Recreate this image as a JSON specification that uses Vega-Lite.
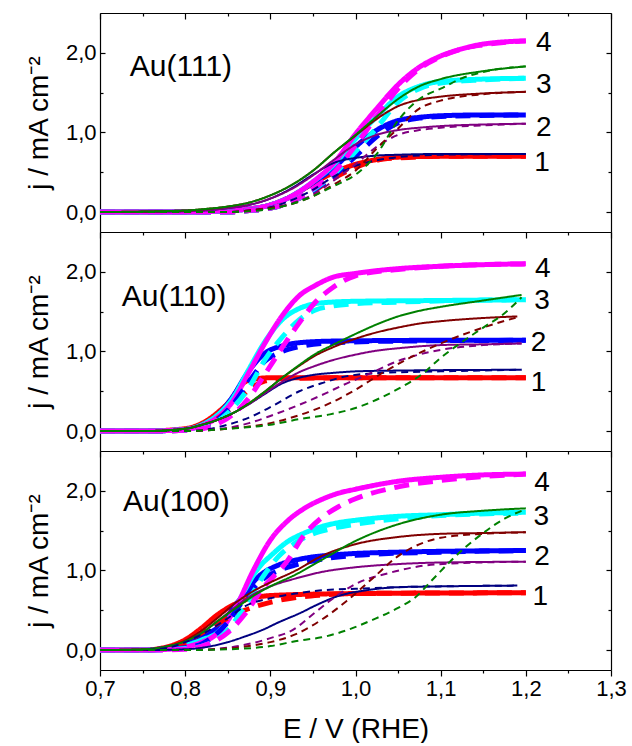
{
  "$schema": "https://vega.github.io/schema/vega-lite/v6.json",
  "padding": {"left": 25, "top": 12, "right": 5, "bottom": 0},
  "bounds": "flush",
  "spacing": 0,
  "config": {
    "font": "Liberation Sans",
    "view": {"stroke": null},
    "axis": {"domainColor": "#000", "tickColor": "#000", "labelColor": "#000", "titleColor": "#000", "grid": false, "labelFont": "Liberation Sans", "titleFont": "Liberation Sans", "titleFontWeight": "normal", "domainWidth": 1.2, "tickWidth": 1.2, "labelFontSize": 22, "titleFontSize": 28, "labelFlush": false, "labelOverlap": false, "labelBound": false}
  },
  "datasets": {
    "p111": [
      {"s":"aR","x":0.7,"y":0},{"s":"aR","x":0.8,"y":0},{"s":"aR","x":0.85,"y":0.02},{"s":"aR","x":0.875,"y":0.04},{"s":"aR","x":0.9,"y":0.09},{"s":"aR","x":0.925,"y":0.2},{"s":"aR","x":0.95,"y":0.36},{"s":"aR","x":0.975,"y":0.5},{"s":"aR","x":1.0,"y":0.6},{"s":"aR","x":1.025,"y":0.66},{"s":"aR","x":1.05,"y":0.69},{"s":"aR","x":1.1,"y":0.7},{"s":"aR","x":1.2,"y":0.7},
      {"s":"aB","x":0.7,"y":0},{"s":"aB","x":0.8,"y":0},{"s":"aB","x":0.85,"y":0.02},{"s":"aB","x":0.875,"y":0.04},{"s":"aB","x":0.9,"y":0.09},{"s":"aB","x":0.925,"y":0.2},{"s":"aB","x":0.95,"y":0.37},{"s":"aB","x":0.975,"y":0.56},{"s":"aB","x":1.0,"y":0.82},{"s":"aB","x":1.025,"y":1.03},{"s":"aB","x":1.05,"y":1.15},{"s":"aB","x":1.075,"y":1.19},{"s":"aB","x":1.1,"y":1.21},{"s":"aB","x":1.15,"y":1.22},{"s":"aB","x":1.2,"y":1.22},
      {"s":"aC","x":0.7,"y":0},{"s":"aC","x":0.8,"y":0},{"s":"aC","x":0.85,"y":0.02},{"s":"aC","x":0.875,"y":0.04},{"s":"aC","x":0.9,"y":0.09},{"s":"aC","x":0.925,"y":0.2},{"s":"aC","x":0.95,"y":0.38},{"s":"aC","x":0.975,"y":0.6},{"s":"aC","x":1.0,"y":0.92},{"s":"aC","x":1.025,"y":1.2},{"s":"aC","x":1.05,"y":1.45},{"s":"aC","x":1.075,"y":1.58},{"s":"aC","x":1.1,"y":1.64},{"s":"aC","x":1.15,"y":1.67},{"s":"aC","x":1.2,"y":1.68},
      {"s":"aM","x":0.7,"y":0},{"s":"aM","x":0.8,"y":0},{"s":"aM","x":0.85,"y":0.02},{"s":"aM","x":0.875,"y":0.04},{"s":"aM","x":0.9,"y":0.09},{"s":"aM","x":0.925,"y":0.2},{"s":"aM","x":0.95,"y":0.38},{"s":"aM","x":0.975,"y":0.62},{"s":"aM","x":1.0,"y":0.98},{"s":"aM","x":1.025,"y":1.3},{"s":"aM","x":1.05,"y":1.6},{"s":"aM","x":1.075,"y":1.82},{"s":"aM","x":1.1,"y":1.96},{"s":"aM","x":1.125,"y":2.05},{"s":"aM","x":1.15,"y":2.11},{"s":"aM","x":1.2,"y":2.15},
      {"s":"bR","x":0.7,"y":0},{"s":"bR","x":0.85,"y":0},{"s":"bR","x":0.875,"y":0.02},{"s":"bR","x":0.9,"y":0.05},{"s":"bR","x":0.925,"y":0.13},{"s":"bR","x":0.95,"y":0.26},{"s":"bR","x":0.975,"y":0.43},{"s":"bR","x":1.0,"y":0.56},{"s":"bR","x":1.025,"y":0.65},{"s":"bR","x":1.05,"y":0.68},{"s":"bR","x":1.1,"y":0.7},{"s":"bR","x":1.2,"y":0.7},
      {"s":"bB","x":0.7,"y":0},{"s":"bB","x":0.85,"y":0},{"s":"bB","x":0.875,"y":0.02},{"s":"bB","x":0.9,"y":0.05},{"s":"bB","x":0.925,"y":0.13},{"s":"bB","x":0.95,"y":0.27},{"s":"bB","x":0.975,"y":0.46},{"s":"bB","x":1.0,"y":0.7},{"s":"bB","x":1.025,"y":0.95},{"s":"bB","x":1.05,"y":1.12},{"s":"bB","x":1.075,"y":1.18},{"s":"bB","x":1.1,"y":1.2},{"s":"bB","x":1.2,"y":1.22},
      {"s":"bC","x":0.7,"y":0},{"s":"bC","x":0.85,"y":0},{"s":"bC","x":0.875,"y":0.02},{"s":"bC","x":0.9,"y":0.05},{"s":"bC","x":0.925,"y":0.13},{"s":"bC","x":0.95,"y":0.28},{"s":"bC","x":0.975,"y":0.48},{"s":"bC","x":1.0,"y":0.76},{"s":"bC","x":1.025,"y":1.06},{"s":"bC","x":1.05,"y":1.38},{"s":"bC","x":1.075,"y":1.55},{"s":"bC","x":1.1,"y":1.62},{"s":"bC","x":1.15,"y":1.66},{"s":"bC","x":1.2,"y":1.68},
      {"s":"bM","x":0.7,"y":0},{"s":"bM","x":0.85,"y":0},{"s":"bM","x":0.875,"y":0.02},{"s":"bM","x":0.9,"y":0.05},{"s":"bM","x":0.925,"y":0.13},{"s":"bM","x":0.95,"y":0.29},{"s":"bM","x":0.975,"y":0.5},{"s":"bM","x":1.0,"y":0.84},{"s":"bM","x":1.025,"y":1.2},{"s":"bM","x":1.05,"y":1.55},{"s":"bM","x":1.075,"y":1.8},{"s":"bM","x":1.1,"y":1.95},{"s":"bM","x":1.125,"y":2.05},{"s":"bM","x":1.15,"y":2.1},{"s":"bM","x":1.2,"y":2.15},
      {"s":"cN","x":0.7,"y":0},{"s":"cN","x":0.8,"y":0.01},{"s":"cN","x":0.85,"y":0.05},{"s":"cN","x":0.875,"y":0.09},{"s":"cN","x":0.9,"y":0.17},{"s":"cN","x":0.925,"y":0.3},{"s":"cN","x":0.95,"y":0.47},{"s":"cN","x":0.975,"y":0.62},{"s":"cN","x":1.0,"y":0.68},{"s":"cN","x":1.025,"y":0.71},{"s":"cN","x":1.05,"y":0.72},{"s":"cN","x":1.1,"y":0.73},{"s":"cN","x":1.2,"y":0.73},
      {"s":"cP","x":0.7,"y":0},{"s":"cP","x":0.8,"y":0.01},{"s":"cP","x":0.85,"y":0.05},{"s":"cP","x":0.875,"y":0.09},{"s":"cP","x":0.9,"y":0.17},{"s":"cP","x":0.925,"y":0.29},{"s":"cP","x":0.95,"y":0.46},{"s":"cP","x":0.975,"y":0.66},{"s":"cP","x":1.0,"y":0.85},{"s":"cP","x":1.025,"y":0.97},{"s":"cP","x":1.05,"y":1.03},{"s":"cP","x":1.075,"y":1.06},{"s":"cP","x":1.1,"y":1.08},{"s":"cP","x":1.15,"y":1.1},{"s":"cP","x":1.2,"y":1.11},
      {"s":"cD","x":0.7,"y":0},{"s":"cD","x":0.8,"y":0.02},{"s":"cD","x":0.825,"y":0.04},{"s":"cD","x":0.85,"y":0.07},{"s":"cD","x":0.875,"y":0.12},{"s":"cD","x":0.9,"y":0.21},{"s":"cD","x":0.925,"y":0.34},{"s":"cD","x":0.95,"y":0.52},{"s":"cD","x":0.975,"y":0.75},{"s":"cD","x":1.0,"y":0.96},{"s":"cD","x":1.025,"y":1.17},{"s":"cD","x":1.05,"y":1.33},{"s":"cD","x":1.075,"y":1.41},{"s":"cD","x":1.1,"y":1.45},{"s":"cD","x":1.15,"y":1.49},{"s":"cD","x":1.2,"y":1.51},
      {"s":"cG","x":0.7,"y":0},{"s":"cG","x":0.8,"y":0.02},{"s":"cG","x":0.825,"y":0.04},{"s":"cG","x":0.85,"y":0.07},{"s":"cG","x":0.875,"y":0.12},{"s":"cG","x":0.9,"y":0.21},{"s":"cG","x":0.925,"y":0.34},{"s":"cG","x":0.95,"y":0.52},{"s":"cG","x":0.975,"y":0.75},{"s":"cG","x":1.0,"y":0.97},{"s":"cG","x":1.025,"y":1.2},{"s":"cG","x":1.05,"y":1.42},{"s":"cG","x":1.075,"y":1.58},{"s":"cG","x":1.1,"y":1.67},{"s":"cG","x":1.15,"y":1.77},{"s":"cG","x":1.2,"y":1.83},
      {"s":"dN","x":0.7,"y":0},{"s":"dN","x":0.85,"y":0},{"s":"dN","x":0.875,"y":0.02},{"s":"dN","x":0.9,"y":0.06},{"s":"dN","x":0.925,"y":0.15},{"s":"dN","x":0.95,"y":0.28},{"s":"dN","x":0.975,"y":0.45},{"s":"dN","x":1.0,"y":0.58},{"s":"dN","x":1.025,"y":0.65},{"s":"dN","x":1.05,"y":0.69},{"s":"dN","x":1.1,"y":0.72},{"s":"dN","x":1.2,"y":0.73},
      {"s":"dP","x":0.7,"y":0},{"s":"dP","x":0.85,"y":0},{"s":"dP","x":0.875,"y":0.02},{"s":"dP","x":0.9,"y":0.05},{"s":"dP","x":0.925,"y":0.11},{"s":"dP","x":0.95,"y":0.22},{"s":"dP","x":0.975,"y":0.4},{"s":"dP","x":1.0,"y":0.6},{"s":"dP","x":1.025,"y":0.82},{"s":"dP","x":1.05,"y":0.97},{"s":"dP","x":1.075,"y":1.03},{"s":"dP","x":1.1,"y":1.06},{"s":"dP","x":1.15,"y":1.09},{"s":"dP","x":1.2,"y":1.11},
      {"s":"dD","x":0.7,"y":0},{"s":"dD","x":0.85,"y":0},{"s":"dD","x":0.875,"y":0.02},{"s":"dD","x":0.9,"y":0.05},{"s":"dD","x":0.925,"y":0.1},{"s":"dD","x":0.95,"y":0.2},{"s":"dD","x":0.975,"y":0.35},{"s":"dD","x":1.0,"y":0.52},{"s":"dD","x":1.025,"y":0.8},{"s":"dD","x":1.05,"y":1.05},{"s":"dD","x":1.075,"y":1.3},{"s":"dD","x":1.1,"y":1.4},{"s":"dD","x":1.15,"y":1.48},{"s":"dD","x":1.2,"y":1.51},
      {"s":"dG","x":0.7,"y":0},{"s":"dG","x":0.85,"y":0},{"s":"dG","x":0.875,"y":0.01},{"s":"dG","x":0.9,"y":0.04},{"s":"dG","x":0.925,"y":0.1},{"s":"dG","x":0.95,"y":0.2},{"s":"dG","x":0.975,"y":0.33},{"s":"dG","x":1.0,"y":0.47},{"s":"dG","x":1.025,"y":0.73},{"s":"dG","x":1.05,"y":1.15},{"s":"dG","x":1.075,"y":1.42},{"s":"dG","x":1.1,"y":1.55},{"s":"dG","x":1.125,"y":1.68},{"s":"dG","x":1.15,"y":1.76},{"s":"dG","x":1.2,"y":1.83}
    ],
    "p110": [
      {"s":"aR","x":0.7,"y":0},{"s":"aR","x":0.75,"y":0},{"s":"aR","x":0.8,"y":0.03},{"s":"aR","x":0.82,"y":0.1},{"s":"aR","x":0.84,"y":0.25},{"s":"aR","x":0.855,"y":0.41},{"s":"aR","x":0.865,"y":0.57},{"s":"aR","x":0.875,"y":0.64},{"s":"aR","x":0.9,"y":0.67},{"s":"aR","x":1.0,"y":0.67},{"s":"aR","x":1.2,"y":0.67},
      {"s":"aB","x":0.7,"y":0},{"s":"aB","x":0.75,"y":0},{"s":"aB","x":0.8,"y":0.02},{"s":"aB","x":0.82,"y":0.08},{"s":"aB","x":0.84,"y":0.22},{"s":"aB","x":0.855,"y":0.42},{"s":"aB","x":0.875,"y":0.76},{"s":"aB","x":0.894,"y":0.98},{"s":"aB","x":0.914,"y":1.07},{"s":"aB","x":0.934,"y":1.11},{"s":"aB","x":0.973,"y":1.13},{"s":"aB","x":1.1,"y":1.14},{"s":"aB","x":1.2,"y":1.14},
      {"s":"aC","x":0.7,"y":0},{"s":"aC","x":0.75,"y":0},{"s":"aC","x":0.8,"y":0.02},{"s":"aC","x":0.82,"y":0.08},{"s":"aC","x":0.84,"y":0.22},{"s":"aC","x":0.855,"y":0.4},{"s":"aC","x":0.875,"y":0.78},{"s":"aC","x":0.894,"y":1.13},{"s":"aC","x":0.914,"y":1.4},{"s":"aC","x":0.934,"y":1.54},{"s":"aC","x":0.953,"y":1.6},{"s":"aC","x":0.973,"y":1.62},{"s":"aC","x":1.0,"y":1.63},{"s":"aC","x":1.1,"y":1.64},{"s":"aC","x":1.2,"y":1.65},
      {"s":"aM","x":0.7,"y":0},{"s":"aM","x":0.75,"y":0},{"s":"aM","x":0.8,"y":0.02},{"s":"aM","x":0.82,"y":0.07},{"s":"aM","x":0.84,"y":0.19},{"s":"aM","x":0.855,"y":0.36},{"s":"aM","x":0.875,"y":0.74},{"s":"aM","x":0.894,"y":1.11},{"s":"aM","x":0.914,"y":1.45},{"s":"aM","x":0.934,"y":1.7},{"s":"aM","x":0.953,"y":1.83},{"s":"aM","x":0.973,"y":1.93},{"s":"aM","x":1.0,"y":1.98},{"s":"aM","x":1.05,"y":2.04},{"s":"aM","x":1.1,"y":2.07},{"s":"aM","x":1.15,"y":2.09},{"s":"aM","x":1.2,"y":2.1},
      {"s":"bR","x":0.7,"y":0},{"s":"bR","x":0.75,"y":0},{"s":"bR","x":0.8,"y":0.01},{"s":"bR","x":0.82,"y":0.05},{"s":"bR","x":0.84,"y":0.17},{"s":"bR","x":0.855,"y":0.3},{"s":"bR","x":0.865,"y":0.42},{"s":"bR","x":0.875,"y":0.52},{"s":"bR","x":0.894,"y":0.63},{"s":"bR","x":0.914,"y":0.66},{"s":"bR","x":1.0,"y":0.67},{"s":"bR","x":1.2,"y":0.67},
      {"s":"bB","x":0.7,"y":0},{"s":"bB","x":0.75,"y":0},{"s":"bB","x":0.8,"y":0.01},{"s":"bB","x":0.82,"y":0.05},{"s":"bB","x":0.84,"y":0.16},{"s":"bB","x":0.855,"y":0.32},{"s":"bB","x":0.875,"y":0.62},{"s":"bB","x":0.894,"y":0.88},{"s":"bB","x":0.914,"y":1.0},{"s":"bB","x":0.934,"y":1.06},{"s":"bB","x":0.973,"y":1.11},{"s":"bB","x":1.05,"y":1.13},{"s":"bB","x":1.2,"y":1.14},
      {"s":"bC","x":0.7,"y":0},{"s":"bC","x":0.75,"y":0},{"s":"bC","x":0.8,"y":0.01},{"s":"bC","x":0.82,"y":0.04},{"s":"bC","x":0.84,"y":0.14},{"s":"bC","x":0.855,"y":0.28},{"s":"bC","x":0.875,"y":0.55},{"s":"bC","x":0.894,"y":0.9},{"s":"bC","x":0.914,"y":1.18},{"s":"bC","x":0.934,"y":1.4},{"s":"bC","x":0.953,"y":1.52},{"s":"bC","x":0.973,"y":1.57},{"s":"bC","x":1.0,"y":1.6},{"s":"bC","x":1.05,"y":1.62},{"s":"bC","x":1.2,"y":1.65},
      {"s":"bM","x":0.7,"y":0},{"s":"bM","x":0.75,"y":0},{"s":"bM","x":0.8,"y":0.01},{"s":"bM","x":0.82,"y":0.03},{"s":"bM","x":0.84,"y":0.1},{"s":"bM","x":0.855,"y":0.2},{"s":"bM","x":0.875,"y":0.42},{"s":"bM","x":0.894,"y":0.72},{"s":"bM","x":0.914,"y":1.05},{"s":"bM","x":0.934,"y":1.36},{"s":"bM","x":0.953,"y":1.62},{"s":"bM","x":0.973,"y":1.8},{"s":"bM","x":1.0,"y":1.95},{"s":"bM","x":1.05,"y":2.03},{"s":"bM","x":1.1,"y":2.07},{"s":"bM","x":1.2,"y":2.1},
      {"s":"cN","x":0.7,"y":0},{"s":"cN","x":0.75,"y":0},{"s":"cN","x":0.8,"y":0.03},{"s":"cN","x":0.82,"y":0.08},{"s":"cN","x":0.84,"y":0.15},{"s":"cN","x":0.855,"y":0.22},{"s":"cN","x":0.875,"y":0.34},{"s":"cN","x":0.894,"y":0.47},{"s":"cN","x":0.914,"y":0.6},{"s":"cN","x":0.934,"y":0.67},{"s":"cN","x":0.953,"y":0.71},{"s":"cN","x":0.973,"y":0.73},{"s":"cN","x":1.0,"y":0.75},{"s":"cN","x":1.05,"y":0.76},{"s":"cN","x":1.195,"y":0.77},
      {"s":"cP","x":0.7,"y":0},{"s":"cP","x":0.75,"y":0},{"s":"cP","x":0.8,"y":0.03},{"s":"cP","x":0.82,"y":0.08},{"s":"cP","x":0.84,"y":0.15},{"s":"cP","x":0.855,"y":0.22},{"s":"cP","x":0.875,"y":0.34},{"s":"cP","x":0.894,"y":0.48},{"s":"cP","x":0.914,"y":0.62},{"s":"cP","x":0.934,"y":0.74},{"s":"cP","x":0.953,"y":0.82},{"s":"cP","x":0.973,"y":0.89},{"s":"cP","x":1.0,"y":0.96},{"s":"cP","x":1.025,"y":1.01},{"s":"cP","x":1.05,"y":1.04},{"s":"cP","x":1.1,"y":1.08},{"s":"cP","x":1.15,"y":1.09},{"s":"cP","x":1.195,"y":1.1},
      {"s":"cD","x":0.7,"y":0},{"s":"cD","x":0.75,"y":0},{"s":"cD","x":0.8,"y":0.03},{"s":"cD","x":0.82,"y":0.08},{"s":"cD","x":0.84,"y":0.15},{"s":"cD","x":0.855,"y":0.22},{"s":"cD","x":0.875,"y":0.35},{"s":"cD","x":0.894,"y":0.5},{"s":"cD","x":0.914,"y":0.67},{"s":"cD","x":0.934,"y":0.82},{"s":"cD","x":0.953,"y":0.95},{"s":"cD","x":0.973,"y":1.05},{"s":"cD","x":1.0,"y":1.16},{"s":"cD","x":1.025,"y":1.24},{"s":"cD","x":1.05,"y":1.3},{"s":"cD","x":1.075,"y":1.35},{"s":"cD","x":1.1,"y":1.38},{"s":"cD","x":1.15,"y":1.42},{"s":"cD","x":1.19,"y":1.44},
      {"s":"cG","x":0.7,"y":0},{"s":"cG","x":0.75,"y":0},{"s":"cG","x":0.8,"y":0.03},{"s":"cG","x":0.82,"y":0.08},{"s":"cG","x":0.84,"y":0.15},{"s":"cG","x":0.855,"y":0.22},{"s":"cG","x":0.875,"y":0.35},{"s":"cG","x":0.894,"y":0.5},{"s":"cG","x":0.914,"y":0.67},{"s":"cG","x":0.934,"y":0.83},{"s":"cG","x":0.953,"y":0.97},{"s":"cG","x":0.973,"y":1.08},{"s":"cG","x":1.0,"y":1.22},{"s":"cG","x":1.025,"y":1.34},{"s":"cG","x":1.05,"y":1.44},{"s":"cG","x":1.075,"y":1.51},{"s":"cG","x":1.1,"y":1.56},{"s":"cG","x":1.15,"y":1.64},{"s":"cG","x":1.195,"y":1.71},
      {"s":"dN","x":0.7,"y":0},{"s":"dN","x":0.75,"y":0},{"s":"dN","x":0.8,"y":0},{"s":"dN","x":0.85,"y":0.08},{"s":"dN","x":0.875,"y":0.17},{"s":"dN","x":0.9,"y":0.3},{"s":"dN","x":0.934,"y":0.5},{"s":"dN","x":0.96,"y":0.6},{"s":"dN","x":0.99,"y":0.69},{"s":"dN","x":1.03,"y":0.73},{"s":"dN","x":1.1,"y":0.75},{"s":"dN","x":1.195,"y":0.77},
      {"s":"dP","x":0.7,"y":0},{"s":"dP","x":0.75,"y":0},{"s":"dP","x":0.8,"y":0},{"s":"dP","x":0.85,"y":0.04},{"s":"dP","x":0.875,"y":0.1},{"s":"dP","x":0.9,"y":0.19},{"s":"dP","x":0.934,"y":0.33},{"s":"dP","x":0.96,"y":0.45},{"s":"dP","x":0.99,"y":0.6},{"s":"dP","x":1.012,"y":0.7},{"s":"dP","x":1.05,"y":0.88},{"s":"dP","x":1.1,"y":1.02},{"s":"dP","x":1.15,"y":1.08},{"s":"dP","x":1.195,"y":1.1},
      {"s":"dD","x":0.7,"y":0},{"s":"dD","x":0.75,"y":0},{"s":"dD","x":0.8,"y":0},{"s":"dD","x":0.85,"y":0.03},{"s":"dD","x":0.9,"y":0.1},{"s":"dD","x":0.934,"y":0.2},{"s":"dD","x":0.97,"y":0.35},{"s":"dD","x":1.0,"y":0.52},{"s":"dD","x":1.03,"y":0.72},{"s":"dD","x":1.06,"y":0.9},{"s":"dD","x":1.1,"y":1.1},{"s":"dD","x":1.15,"y":1.3},{"s":"dD","x":1.19,"y":1.43},
      {"s":"dG","x":0.7,"y":0},{"s":"dG","x":0.75,"y":0},{"s":"dG","x":0.8,"y":0},{"s":"dG","x":0.85,"y":0.03},{"s":"dG","x":0.9,"y":0.08},{"s":"dG","x":0.934,"y":0.15},{"s":"dG","x":0.97,"y":0.21},{"s":"dG","x":1.0,"y":0.29},{"s":"dG","x":1.03,"y":0.42},{"s":"dG","x":1.05,"y":0.53},{"s":"dG","x":1.08,"y":0.73},{"s":"dG","x":1.1,"y":0.92},{"s":"dG","x":1.12,"y":1.08},{"s":"dG","x":1.15,"y":1.3},{"s":"dG","x":1.175,"y":1.48},{"s":"dG","x":1.195,"y":1.68}
    ],
    "p100": [
      {"s":"aR","x":0.7,"y":0},{"s":"aR","x":0.75,"y":0},{"s":"aR","x":0.77,"y":0.02},{"s":"aR","x":0.79,"y":0.08},{"s":"aR","x":0.8,"y":0.13},{"s":"aR","x":0.816,"y":0.25},{"s":"aR","x":0.84,"y":0.46},{"s":"aR","x":0.863,"y":0.6},{"s":"aR","x":0.887,"y":0.67},{"s":"aR","x":0.91,"y":0.69},{"s":"aR","x":1.0,"y":0.71},{"s":"aR","x":1.2,"y":0.72},
      {"s":"aB","x":0.7,"y":0},{"s":"aB","x":0.75,"y":0},{"s":"aB","x":0.78,"y":0.03},{"s":"aB","x":0.8,"y":0.08},{"s":"aB","x":0.82,"y":0.17},{"s":"aB","x":0.84,"y":0.3},{"s":"aB","x":0.863,"y":0.62},{"s":"aB","x":0.887,"y":0.93},{"s":"aB","x":0.91,"y":1.07},{"s":"aB","x":0.934,"y":1.14},{"s":"aB","x":0.98,"y":1.2},{"s":"aB","x":1.05,"y":1.23},{"s":"aB","x":1.2,"y":1.25},
      {"s":"aC","x":0.7,"y":0},{"s":"aC","x":0.75,"y":0},{"s":"aC","x":0.78,"y":0.02},{"s":"aC","x":0.8,"y":0.06},{"s":"aC","x":0.82,"y":0.13},{"s":"aC","x":0.84,"y":0.24},{"s":"aC","x":0.86,"y":0.55},{"s":"aC","x":0.87,"y":0.75},{"s":"aC","x":0.88,"y":0.94},{"s":"aC","x":0.89,"y":1.08},{"s":"aC","x":0.9,"y":1.18},{"s":"aC","x":0.92,"y":1.36},{"s":"aC","x":0.94,"y":1.47},{"s":"aC","x":0.96,"y":1.55},{"s":"aC","x":0.98,"y":1.6},{"s":"aC","x":1.0,"y":1.63},{"s":"aC","x":1.05,"y":1.68},{"s":"aC","x":1.1,"y":1.7},{"s":"aC","x":1.15,"y":1.72},{"s":"aC","x":1.2,"y":1.73},
      {"s":"aM","x":0.7,"y":0},{"s":"aM","x":0.75,"y":0},{"s":"aM","x":0.78,"y":0.01},{"s":"aM","x":0.8,"y":0.04},{"s":"aM","x":0.82,"y":0.1},{"s":"aM","x":0.84,"y":0.23},{"s":"aM","x":0.86,"y":0.55},{"s":"aM","x":0.88,"y":1.0},{"s":"aM","x":0.9,"y":1.38},{"s":"aM","x":0.92,"y":1.62},{"s":"aM","x":0.94,"y":1.78},{"s":"aM","x":0.96,"y":1.89},{"s":"aM","x":0.98,"y":1.97},{"s":"aM","x":1.0,"y":2.02},{"s":"aM","x":1.05,"y":2.12},{"s":"aM","x":1.1,"y":2.17},{"s":"aM","x":1.15,"y":2.2},{"s":"aM","x":1.2,"y":2.21},
      {"s":"bR","x":0.7,"y":0},{"s":"bR","x":0.75,"y":0},{"s":"bR","x":0.77,"y":0.01},{"s":"bR","x":0.79,"y":0.05},{"s":"bR","x":0.82,"y":0.22},{"s":"bR","x":0.85,"y":0.4},{"s":"bR","x":0.87,"y":0.5},{"s":"bR","x":0.9,"y":0.6},{"s":"bR","x":0.93,"y":0.66},{"s":"bR","x":0.96,"y":0.69},{"s":"bR","x":1.0,"y":0.71},{"s":"bR","x":1.2,"y":0.72},
      {"s":"bB","x":0.7,"y":0},{"s":"bB","x":0.75,"y":0},{"s":"bB","x":0.8,"y":0.03},{"s":"bB","x":0.82,"y":0.08},{"s":"bB","x":0.85,"y":0.35},{"s":"bB","x":0.87,"y":0.65},{"s":"bB","x":0.89,"y":0.88},{"s":"bB","x":0.91,"y":1.0},{"s":"bB","x":0.93,"y":1.07},{"s":"bB","x":0.96,"y":1.14},{"s":"bB","x":1.0,"y":1.19},{"s":"bB","x":1.1,"y":1.23},{"s":"bB","x":1.2,"y":1.25},
      {"s":"bC","x":0.7,"y":0},{"s":"bC","x":0.75,"y":0},{"s":"bC","x":0.8,"y":0.02},{"s":"bC","x":0.82,"y":0.05},{"s":"bC","x":0.85,"y":0.25},{"s":"bC","x":0.87,"y":0.55},{"s":"bC","x":0.89,"y":0.9},{"s":"bC","x":0.91,"y":1.18},{"s":"bC","x":0.93,"y":1.35},{"s":"bC","x":0.95,"y":1.46},{"s":"bC","x":0.97,"y":1.52},{"s":"bC","x":1.0,"y":1.58},{"s":"bC","x":1.05,"y":1.65},{"s":"bC","x":1.1,"y":1.69},{"s":"bC","x":1.2,"y":1.72},
      {"s":"bM","x":0.7,"y":0},{"s":"bM","x":0.75,"y":0},{"s":"bM","x":0.8,"y":0.01},{"s":"bM","x":0.82,"y":0.05},{"s":"bM","x":0.85,"y":0.22},{"s":"bM","x":0.87,"y":0.45},{"s":"bM","x":0.89,"y":0.76},{"s":"bM","x":0.92,"y":1.12},{"s":"bM","x":0.94,"y":1.45},{"s":"bM","x":0.96,"y":1.66},{"s":"bM","x":0.98,"y":1.8},{"s":"bM","x":1.0,"y":1.9},{"s":"bM","x":1.05,"y":2.05},{"s":"bM","x":1.1,"y":2.13},{"s":"bM","x":1.15,"y":2.18},{"s":"bM","x":1.2,"y":2.21},
      {"s":"cN","x":0.7,"y":0},{"s":"cN","x":0.75,"y":0},{"s":"cN","x":0.8,"y":0.01},{"s":"cN","x":0.82,"y":0.03},{"s":"cN","x":0.85,"y":0.1},{"s":"cN","x":0.87,"y":0.17},{"s":"cN","x":0.89,"y":0.25},{"s":"cN","x":0.91,"y":0.35},{"s":"cN","x":0.934,"y":0.46},{"s":"cN","x":0.957,"y":0.58},{"s":"cN","x":0.98,"y":0.68},{"s":"cN","x":1.012,"y":0.75},{"s":"cN","x":1.05,"y":0.79},{"s":"cN","x":1.1,"y":0.8},{"s":"cN","x":1.19,"y":0.81},
      {"s":"cP","x":0.7,"y":0},{"s":"cP","x":0.75,"y":0.01},{"s":"cP","x":0.78,"y":0.05},{"s":"cP","x":0.8,"y":0.11},{"s":"cP","x":0.82,"y":0.22},{"s":"cP","x":0.84,"y":0.38},{"s":"cP","x":0.86,"y":0.55},{"s":"cP","x":0.88,"y":0.7},{"s":"cP","x":0.9,"y":0.8},{"s":"cP","x":0.93,"y":0.9},{"s":"cP","x":0.96,"y":0.98},{"s":"cP","x":1.0,"y":1.04},{"s":"cP","x":1.05,"y":1.08},{"s":"cP","x":1.1,"y":1.1},{"s":"cP","x":1.2,"y":1.11},
      {"s":"cD","x":0.7,"y":0},{"s":"cD","x":0.75,"y":0.01},{"s":"cD","x":0.78,"y":0.05},{"s":"cD","x":0.8,"y":0.12},{"s":"cD","x":0.82,"y":0.25},{"s":"cD","x":0.84,"y":0.42},{"s":"cD","x":0.86,"y":0.6},{"s":"cD","x":0.88,"y":0.74},{"s":"cD","x":0.9,"y":0.85},{"s":"cD","x":0.93,"y":1.0},{"s":"cD","x":0.96,"y":1.18},{"s":"cD","x":1.0,"y":1.33},{"s":"cD","x":1.05,"y":1.42},{"s":"cD","x":1.1,"y":1.46},{"s":"cD","x":1.15,"y":1.47},{"s":"cD","x":1.2,"y":1.48},
      {"s":"cG","x":0.7,"y":0},{"s":"cG","x":0.75,"y":0.01},{"s":"cG","x":0.78,"y":0.05},{"s":"cG","x":0.8,"y":0.11},{"s":"cG","x":0.82,"y":0.22},{"s":"cG","x":0.84,"y":0.38},{"s":"cG","x":0.86,"y":0.53},{"s":"cG","x":0.88,"y":0.68},{"s":"cG","x":0.9,"y":0.8},{"s":"cG","x":0.93,"y":0.95},{"s":"cG","x":0.96,"y":1.13},{"s":"cG","x":1.0,"y":1.37},{"s":"cG","x":1.05,"y":1.58},{"s":"cG","x":1.1,"y":1.7},{"s":"cG","x":1.15,"y":1.75},{"s":"cG","x":1.2,"y":1.78},
      {"s":"dN","x":0.7,"y":0},{"s":"dN","x":0.75,"y":0},{"s":"dN","x":0.78,"y":0.03},{"s":"dN","x":0.8,"y":0.1},{"s":"dN","x":0.82,"y":0.2},{"s":"dN","x":0.85,"y":0.4},{"s":"dN","x":0.87,"y":0.55},{"s":"dN","x":0.9,"y":0.65},{"s":"dN","x":0.93,"y":0.71},{"s":"dN","x":0.96,"y":0.75},{"s":"dN","x":1.0,"y":0.77},{"s":"dN","x":1.05,"y":0.79},{"s":"dN","x":1.19,"y":0.81},
      {"s":"dP","x":0.7,"y":0},{"s":"dP","x":0.8,"y":0},{"s":"dP","x":0.85,"y":0.03},{"s":"dP","x":0.88,"y":0.09},{"s":"dP","x":0.9,"y":0.15},{"s":"dP","x":0.926,"y":0.25},{"s":"dP","x":0.95,"y":0.45},{"s":"dP","x":0.97,"y":0.62},{"s":"dP","x":1.0,"y":0.83},{"s":"dP","x":1.04,"y":0.97},{"s":"dP","x":1.08,"y":1.06},{"s":"dP","x":1.12,"y":1.09},{"s":"dP","x":1.2,"y":1.11},
      {"s":"dD","x":0.7,"y":0},{"s":"dD","x":0.8,"y":0},{"s":"dD","x":0.85,"y":0.02},{"s":"dD","x":0.88,"y":0.06},{"s":"dD","x":0.9,"y":0.1},{"s":"dD","x":0.93,"y":0.2},{"s":"dD","x":0.96,"y":0.38},{"s":"dD","x":0.99,"y":0.62},{"s":"dD","x":1.02,"y":0.9},{"s":"dD","x":1.05,"y":1.18},{"s":"dD","x":1.08,"y":1.35},{"s":"dD","x":1.1,"y":1.41},{"s":"dD","x":1.15,"y":1.46},{"s":"dD","x":1.2,"y":1.48},
      {"s":"dG","x":0.7,"y":0},{"s":"dG","x":0.8,"y":0},{"s":"dG","x":0.85,"y":0.01},{"s":"dG","x":0.9,"y":0.05},{"s":"dG","x":0.934,"y":0.12},{"s":"dG","x":0.96,"y":0.16},{"s":"dG","x":0.99,"y":0.25},{"s":"dG","x":1.02,"y":0.38},{"s":"dG","x":1.05,"y":0.53},{"s":"dG","x":1.07,"y":0.66},{"s":"dG","x":1.09,"y":0.88},{"s":"dG","x":1.11,"y":1.1},{"s":"dG","x":1.13,"y":1.3},{"s":"dG","x":1.15,"y":1.47},{"s":"dG","x":1.175,"y":1.65},{"s":"dG","x":1.2,"y":1.77}
    ],
    "num": [
      {"p":"111","t":"4","x":1.221,"y":2.12},{"p":"111","t":"3","x":1.221,"y":1.6},{"p":"111","t":"2","x":1.221,"y":1.06},{"p":"111","t":"1","x":1.219,"y":0.62},
      {"p":"110","t":"4","x":1.22,"y":2.03},{"p":"110","t":"3","x":1.219,"y":1.63},{"p":"110","t":"2","x":1.215,"y":1.11},{"p":"110","t":"1","x":1.215,"y":0.61},
      {"p":"100","t":"4","x":1.219,"y":2.1},{"p":"100","t":"3","x":1.218,"y":1.67},{"p":"100","t":"2","x":1.219,"y":1.17},{"p":"100","t":"1","x":1.217,"y":0.67}
    ],
    "names": [
      {"p":"111","t":"Au(111)","x":0.735,"y":1.71},
      {"p":"110","t":"Au(110)","x":0.7255,"y":1.565},
      {"p":"100","t":"Au(100)","x":0.727,"y":1.75}
    ]
  },
  "vconcat": [
    {
      "width": 511, "height": 219,
      "resolve": {"axis": {"x": "independent", "y": "independent"}},
      "layer": [
        {
          "data": {"name": "p111"},
          "mark": {"type": "line", "interpolate": "monotone", "strokeCap": "butt"},
          "encoding": {
            "x": {"field": "x", "type": "quantitative", "scale": {"domain": [0.7, 1.3], "nice": false, "zero": false},
                  "axis": {"values": [0.7,0.75,0.8,0.85,0.9,0.95,1.0,1.05,1.1,1.15,1.2,1.25,1.3], "labels": false, "title": null,
                           "tickSize": {"condition": {"test": "abs(datum.value*10 - round(datum.value*10)) < 0.01", "value": 6}, "value": 3}}},
            "y": {"field": "y", "type": "quantitative", "scale": {"domain": [-0.25, 2.5], "nice": false, "zero": false},
                  "axis": {"values": [0, 0.5, 1, 1.5, 2], "labelExpr": "datum.value % 1 === 0 ? replace(format(datum.value, '.1f'), '.', ',') : ''",
                           "tickSize": {"condition": {"test": "datum.value % 1 === 0", "value": -5}, "value": -3}, "labelPadding": 9,
                           "title": "j / mA cm\u207b\u00b2", "titlePadding": 12}},
            "color": {"field": "s", "type": "nominal", "legend": null, "scale": {"domain": ["aR","aB","aC","aM","bR","bB","bC","bM","cN","cP","cD","cG","dN","dP","dD","dG"], "range": ["#ff0000","#0000ff","#00ffff","#ff00ff","#ff0000","#0000ff","#00ffff","#ff00ff","#000080","#800080","#800000","#008000","#000080","#800080","#800000","#008000"]}},
            "strokeDash": {"field": "s", "type": "nominal", "legend": null, "scale": {"domain": ["aR","aB","aC","aM","bR","bB","bC","bM","cN","cP","cD","cG","dN","dP","dD","dG"], "range": [[1,0],[1,0],[1,0],[1,0],[15,9],[15,9],[15,9],[15,9],[1,0],[1,0],[1,0],[1,0],[7,5],[7,5],[7,5],[7,5]]}},
            "strokeWidth": {"field": "s", "type": "nominal", "legend": null, "scale": {"type": "ordinal", "domain": ["aR","aB","aC","aM","bR","bB","bC","bM","cN","cP","cD","cG","dN","dP","dD","dG"], "range": [5,5,5,5,5,5,5,5,2,2,2,2,2,2,2,2]}}
          }
        },
        {
          "data": {"name": "num"},
          "transform": [{"filter": "datum.p == '111'"}],
          "mark": {"type": "text", "fontSize": 28, "align": "center", "baseline": "middle", "color": "#000"},
          "encoding": {
            "x": {"field": "x", "type": "quantitative", "scale": {"domain": [0.7, 1.3], "nice": false, "zero": false},
                  "axis": {"orient": "top", "values": [0.7,0.75,0.8,0.85,0.9,0.95,1.0,1.05,1.1,1.15,1.2,1.25,1.3], "labels": false, "title": null,
                           "tickSize": {"condition": {"test": "abs(datum.value*10 - round(datum.value*10)) < 0.01", "value": -6}, "value": -3}}},
            "y": {"field": "y", "type": "quantitative", "scale": {"domain": [-0.25, 2.5], "nice": false, "zero": false},
                  "axis": {"orient": "right", "values": [0, 0.5, 1, 1.5, 2], "labels": false, "title": null,
                           "tickSize": {"condition": {"test": "datum.value % 1 === 0", "value": -5}, "value": -3}}},
            "text": {"field": "t"}
          }
        },
        {
          "data": {"name": "names"},
          "transform": [{"filter": "datum.p == '111'"}],
          "mark": {"type": "text", "fontSize": 30, "align": "left", "baseline": "alphabetic", "color": "#000"},
          "encoding": {
            "x": {"field": "x", "type": "quantitative", "axis": null},
            "y": {"field": "y", "type": "quantitative", "axis": null},
            "text": {"field": "t"}
          }
        }
      ]
    },
    {
      "width": 511, "height": 219,
      "resolve": {"axis": {"x": "independent", "y": "independent"}},
      "layer": [
        {
          "data": {"name": "p110"},
          "mark": {"type": "line", "interpolate": "monotone", "strokeCap": "butt"},
          "encoding": {
            "x": {"field": "x", "type": "quantitative", "scale": {"domain": [0.7, 1.3], "nice": false, "zero": false},
                  "axis": {"values": [0.7,0.75,0.8,0.85,0.9,0.95,1.0,1.05,1.1,1.15,1.2,1.25,1.3], "labels": false, "title": null,
                           "tickSize": {"condition": {"test": "abs(datum.value*10 - round(datum.value*10)) < 0.01", "value": 6}, "value": 3}}},
            "y": {"field": "y", "type": "quantitative", "scale": {"domain": [-0.25, 2.5], "nice": false, "zero": false},
                  "axis": {"values": [0, 0.5, 1, 1.5, 2], "labelExpr": "datum.value % 1 === 0 ? replace(format(datum.value, '.1f'), '.', ',') : ''",
                           "tickSize": {"condition": {"test": "datum.value % 1 === 0", "value": -5}, "value": -3}, "labelPadding": 9,
                           "title": "j / mA cm\u207b\u00b2", "titlePadding": 12}},
            "color": {"field": "s", "type": "nominal", "legend": null, "scale": {"domain": ["aR","aB","aC","aM","bR","bB","bC","bM","cN","cP","cD","cG","dN","dP","dD","dG"], "range": ["#ff0000","#0000ff","#00ffff","#ff00ff","#ff0000","#0000ff","#00ffff","#ff00ff","#000080","#800080","#800000","#008000","#000080","#800080","#800000","#008000"]}},
            "strokeDash": {"field": "s", "type": "nominal", "legend": null, "scale": {"domain": ["aR","aB","aC","aM","bR","bB","bC","bM","cN","cP","cD","cG","dN","dP","dD","dG"], "range": [[1,0],[1,0],[1,0],[1,0],[15,9],[15,9],[15,9],[15,9],[1,0],[1,0],[1,0],[1,0],[7,5],[7,5],[7,5],[7,5]]}},
            "strokeWidth": {"field": "s", "type": "nominal", "legend": null, "scale": {"type": "ordinal", "domain": ["aR","aB","aC","aM","bR","bB","bC","bM","cN","cP","cD","cG","dN","dP","dD","dG"], "range": [5,5,5,5,5,5,5,5,2,2,2,2,2,2,2,2]}}
          }
        },
        {
          "data": {"name": "num"},
          "transform": [{"filter": "datum.p == '110'"}],
          "mark": {"type": "text", "fontSize": 28, "align": "center", "baseline": "middle", "color": "#000"},
          "encoding": {
            "x": {"field": "x", "type": "quantitative", "scale": {"domain": [0.7, 1.3], "nice": false, "zero": false}, "axis": null},
            "y": {"field": "y", "type": "quantitative", "scale": {"domain": [-0.25, 2.5], "nice": false, "zero": false},
                  "axis": {"orient": "right", "values": [0, 0.5, 1, 1.5, 2], "labels": false, "title": null,
                           "tickSize": {"condition": {"test": "datum.value % 1 === 0", "value": -5}, "value": -3}}},
            "text": {"field": "t"}
          }
        },
        {
          "data": {"name": "names"},
          "transform": [{"filter": "datum.p == '110'"}],
          "mark": {"type": "text", "fontSize": 30, "align": "left", "baseline": "alphabetic", "color": "#000"},
          "encoding": {
            "x": {"field": "x", "type": "quantitative", "axis": null},
            "y": {"field": "y", "type": "quantitative", "axis": null},
            "text": {"field": "t"}
          }
        }
      ]
    },
    {
      "width": 511, "height": 219,
      "resolve": {"axis": {"x": "independent", "y": "independent"}},
      "layer": [
        {
          "data": {"name": "p100"},
          "mark": {"type": "line", "interpolate": "monotone", "strokeCap": "butt"},
          "encoding": {
            "x": {"field": "x", "type": "quantitative", "scale": {"domain": [0.7, 1.3], "nice": false, "zero": false},
                  "axis": {"values": [0.7,0.75,0.8,0.85,0.9,0.95,1.0,1.05,1.1,1.15,1.2,1.25,1.3],
                           "labelExpr": "abs(datum.value*10 - round(datum.value*10)) < 0.01 ? replace(format(datum.value, '.1f'), '.', ',') : ''",
                           "tickSize": {"condition": {"test": "abs(datum.value*10 - round(datum.value*10)) < 0.01", "value": 6}, "value": 3},
                           "labelPadding": 2, "title": "E / V (RHE)", "titlePadding": 16}},
            "y": {"field": "y", "type": "quantitative", "scale": {"domain": [-0.25, 2.5], "nice": false, "zero": false},
                  "axis": {"values": [0, 0.5, 1, 1.5, 2], "labelExpr": "datum.value % 1 === 0 ? replace(format(datum.value, '.1f'), '.', ',') : ''",
                           "tickSize": {"condition": {"test": "datum.value % 1 === 0", "value": -5}, "value": -3}, "labelPadding": 9,
                           "title": "j / mA cm\u207b\u00b2", "titlePadding": 12}},
            "color": {"field": "s", "type": "nominal", "legend": null, "scale": {"domain": ["aR","aB","aC","aM","bR","bB","bC","bM","cN","cP","cD","cG","dN","dP","dD","dG"], "range": ["#ff0000","#0000ff","#00ffff","#ff00ff","#ff0000","#0000ff","#00ffff","#ff00ff","#000080","#800080","#800000","#008000","#000080","#800080","#800000","#008000"]}},
            "strokeDash": {"field": "s", "type": "nominal", "legend": null, "scale": {"domain": ["aR","aB","aC","aM","bR","bB","bC","bM","cN","cP","cD","cG","dN","dP","dD","dG"], "range": [[1,0],[1,0],[1,0],[1,0],[15,9],[15,9],[15,9],[15,9],[1,0],[1,0],[1,0],[1,0],[7,5],[7,5],[7,5],[7,5]]}},
            "strokeWidth": {"field": "s", "type": "nominal", "legend": null, "scale": {"type": "ordinal", "domain": ["aR","aB","aC","aM","bR","bB","bC","bM","cN","cP","cD","cG","dN","dP","dD","dG"], "range": [5,5,5,5,5,5,5,5,2,2,2,2,2,2,2,2]}}
          }
        },
        {
          "data": {"name": "num"},
          "transform": [{"filter": "datum.p == '100'"}],
          "mark": {"type": "text", "fontSize": 28, "align": "center", "baseline": "middle", "color": "#000"},
          "encoding": {
            "x": {"field": "x", "type": "quantitative", "scale": {"domain": [0.7, 1.3], "nice": false, "zero": false}, "axis": null},
            "y": {"field": "y", "type": "quantitative", "scale": {"domain": [-0.25, 2.5], "nice": false, "zero": false},
                  "axis": {"orient": "right", "values": [0, 0.5, 1, 1.5, 2], "labels": false, "title": null,
                           "tickSize": {"condition": {"test": "datum.value % 1 === 0", "value": -5}, "value": -3}}},
            "text": {"field": "t"}
          }
        },
        {
          "data": {"name": "names"},
          "transform": [{"filter": "datum.p == '100'"}],
          "mark": {"type": "text", "fontSize": 30, "align": "left", "baseline": "alphabetic", "color": "#000"},
          "encoding": {
            "x": {"field": "x", "type": "quantitative", "axis": null},
            "y": {"field": "y", "type": "quantitative", "axis": null},
            "text": {"field": "t"}
          }
        }
      ]
    }
  ]
}
